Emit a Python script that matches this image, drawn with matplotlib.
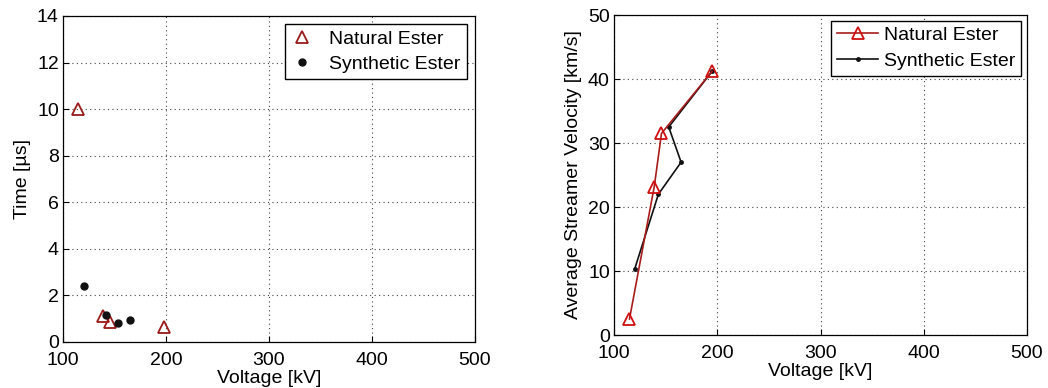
import matplotlib
matplotlib.use('Agg')
from matplotlib import pyplot as plt

# time to breakdown
nat_v_time = [115, 139, 146, 198]
nat_time = [10.0, 1.1, 0.85, 0.65]
syn_v_time = [120, 142, 153, 165]
syn_time = [2.4, 1.15, 0.8, 0.95]

# average streamer velocity
nat_v_vel = [115, 139, 146, 195]
nat_vel = [2.5, 23.2, 31.5, 41.2]
syn_v_vel = [120, 143, 165, 153, 195]
syn_vel = [10.3, 22.0, 27.0, 32.5, 41.2]

xticks = [100, 200, 300, 400, 500]
red = '#9a1a1a'

plt.rcParams['font.family'] = ['Liberation Sans', 'DejaVu Sans']
plt.rcParams['font.size'] = 14

fig = plt.figure(figsize=(10.48, 3.88), dpi=100)
ax1 = fig.add_axes([63 / 1048, 1 - 342 / 388, 412 / 1048, 326 / 388])
ax2 = fig.add_axes([614 / 1048, 1 - 335 / 388, 413 / 1048, 320 / 388])


def style(ax, ymax, ystep):
    ax.set_xlim(100, 500)
    ax.set_ylim(0, ymax)
    ax.set_xticks(xticks)
    ax.set_yticks(range(0, ymax + 1, ystep))
    ax.grid(True, linestyle=(0, (1, 3)), color='#444444', linewidth=0.8)
    ax.tick_params(axis='both', direction='in', length=4, labelsize=14)
    ax.tick_params(axis='x', pad=7)
    ax.tick_params(axis='y', pad=3)
    for s in ax.spines.values():
        s.set_linewidth(0.9)
    ax.set_xlabel('Voltage [kV]', fontsize=14, labelpad=1)


ax1.plot(nat_v_time, nat_time, linestyle='none', marker='^', markersize=8,
         markerfacecolor='none', markeredgecolor=red, markeredgewidth=1.3,
         label='Natural Ester')
ax1.plot(syn_v_time, syn_time, linestyle='none', marker='o', markersize=5,
         color='#111111', label='Synthetic Ester')
style(ax1, 14, 2)
ax1.set_ylabel('Time [\u00b5s]', fontsize=14)
ax1.legend(loc='upper right', fancybox=False, edgecolor='black', framealpha=1,
           fontsize=14, borderpad=0.35, handletextpad=0.9, handlelength=1.0,
           labelspacing=0.35, borderaxespad=0.4)

ax2.plot(syn_v_vel, syn_vel, color='#111111', linewidth=1.2, marker='o',
         markersize=2.5, label='Synthetic Ester', zorder=2)
ax2.plot(nat_v_vel, nat_vel, color='#a81c1c', linewidth=1.2, marker='^', markersize=9,
         markerfacecolor='none', markeredgecolor='#d01010', markeredgewidth=1.3,
         label='Natural Ester', zorder=3)
style(ax2, 50, 10)
ax2.set_ylabel('Average Streamer Velocity [km/s]', fontsize=14)
h, l = ax2.get_legend_handles_labels()
ax2.legend(h[::-1], l[::-1], loc='upper right', fancybox=False, edgecolor='black',
           framealpha=1, fontsize=14, borderpad=0.3, handletextpad=0.3,
           labelspacing=0.4, handlelength=2.1, borderaxespad=0.3)

fig.savefig('out.png', dpi=100)
